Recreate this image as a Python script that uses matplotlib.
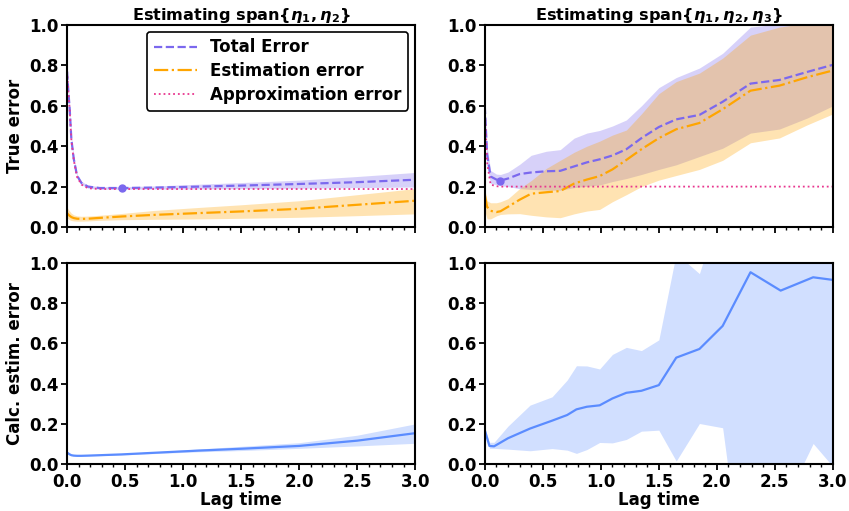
import numpy as np
import matplotlib
matplotlib.use('Agg')
import matplotlib.pyplot as plt
from matplotlib.ticker import MultipleLocator

plt.rcParams['font.family'] = 'DejaVu Sans'
plt.rcParams['font.weight'] = 'bold'
plt.rcParams['axes.labelweight'] = 'bold'
plt.rcParams['axes.titleweight'] = 'bold'

# left column: span{eta1, eta2}
lag_l = [0.0, 0.01, 0.023, 0.037, 0.058, 0.086, 0.124, 0.18, 0.28, 0.47, 0.75, 1.14, 1.5, 2.0, 2.5, 3.0]
tot_l = [0.77, 0.68, 0.58, 0.434, 0.336, 0.254, 0.218, 0.2, 0.193, 0.193, 0.195, 0.2, 0.205, 0.213, 0.222, 0.234]
tot_l_lo = [0.75, 0.66, 0.56, 0.42, 0.325, 0.245, 0.21, 0.192, 0.187, 0.187, 0.188, 0.189, 0.19, 0.192, 0.195, 0.198]
tot_l_hi = [0.79, 0.70, 0.60, 0.45, 0.347, 0.263, 0.226, 0.207, 0.2, 0.2, 0.203, 0.212, 0.22, 0.232, 0.25, 0.27]
est_l = [0.069, 0.062, 0.055, 0.049, 0.044, 0.041, 0.04, 0.041, 0.045, 0.052, 0.06, 0.069, 0.077, 0.09, 0.11, 0.13]
est_l_lo = [0.045, 0.04, 0.035, 0.032, 0.03, 0.029, 0.029, 0.03, 0.033, 0.036, 0.038, 0.04, 0.043, 0.048, 0.056, 0.065]
est_l_hi = [0.098, 0.088, 0.078, 0.068, 0.06, 0.055, 0.053, 0.054, 0.058, 0.067, 0.082, 0.097, 0.11, 0.13, 0.16, 0.19]
apx_l = [0.77, 0.68, 0.575, 0.43, 0.33, 0.248, 0.21, 0.192, 0.188, 0.188, 0.188, 0.188, 0.188, 0.188, 0.188, 0.188]
calc_l = [0.059, 0.055, 0.05, 0.046, 0.044, 0.043, 0.043, 0.044, 0.046, 0.05, 0.058, 0.069, 0.078, 0.092, 0.118, 0.155]
calc_l_lo = [0.055, 0.051, 0.047, 0.044, 0.042, 0.041, 0.041, 0.042, 0.044, 0.047, 0.054, 0.063, 0.069, 0.08, 0.092, 0.105]
calc_l_hi = [0.063, 0.059, 0.054, 0.049, 0.047, 0.046, 0.046, 0.047, 0.049, 0.054, 0.063, 0.077, 0.09, 0.108, 0.145, 0.201]
min_l = (0.47, 0.193)

# right column: span{eta1, eta2, eta3}
lag_r = [0.0, 0.02, 0.05, 0.1, 0.135, 0.2, 0.3, 0.4, 0.53, 0.65, 0.77, 0.88, 0.99, 1.1, 1.22, 1.35,
         1.5, 1.65, 1.85, 2.05, 2.29, 2.54, 2.78, 3.0]
tot_r = [0.60, 0.36, 0.25, 0.235, 0.23, 0.24, 0.262, 0.27, 0.276, 0.278, 0.30, 0.32, 0.335, 0.354, 0.385, 0.44,
         0.495, 0.533, 0.555, 0.62, 0.71, 0.728, 0.768, 0.803]
tot_r_lo = [0.58, 0.30, 0.215, 0.21, 0.205, 0.2, 0.19, 0.186, 0.183, 0.182, 0.195, 0.202, 0.208, 0.225, 0.24, 0.26,
            0.285, 0.308, 0.349, 0.39, 0.465, 0.485, 0.54, 0.6]
tot_r_hi = [0.62, 0.40, 0.28, 0.262, 0.26, 0.272, 0.31, 0.355, 0.375, 0.383, 0.44, 0.465, 0.478, 0.5, 0.53, 0.6,
            0.69, 0.74, 0.787, 0.86, 0.99, 1.005, 1.02, 1.04]
est_r = [0.16, 0.1, 0.08, 0.074, 0.078, 0.1, 0.135, 0.165, 0.172, 0.178, 0.215, 0.235, 0.252, 0.285, 0.332, 0.385,
         0.44, 0.484, 0.515, 0.583, 0.675, 0.7, 0.742, 0.775]
est_r_lo = [0.08, 0.04, 0.04, 0.055, 0.062, 0.065, 0.066, 0.058, 0.05, 0.046, 0.065, 0.079, 0.087, 0.125, 0.16, 0.2,
            0.232, 0.255, 0.285, 0.33, 0.417, 0.441, 0.506, 0.56]
est_r_hi = [0.19, 0.13, 0.12, 0.12, 0.125, 0.14, 0.19, 0.23, 0.29, 0.33, 0.37, 0.4, 0.425, 0.455, 0.48, 0.56,
            0.66, 0.72, 0.762, 0.836, 0.95, 0.99, 1.01, 1.02]
apx_r = [0.58, 0.32, 0.21, 0.202, 0.2, 0.2, 0.2, 0.2, 0.2, 0.2, 0.2, 0.2, 0.2, 0.2, 0.2, 0.2,
         0.2, 0.2, 0.2, 0.2, 0.2, 0.2, 0.2, 0.2]
min_r = (0.135, 0.23)

lag_c = [0.0, 0.04, 0.08, 0.2, 0.39, 0.58, 0.71, 0.79, 0.88, 0.99, 1.1, 1.22, 1.35, 1.5, 1.65, 1.85,
         2.05, 2.29, 2.55, 2.83, 3.0]
calc_r = [0.17, 0.092, 0.09, 0.13, 0.178, 0.217, 0.245, 0.273, 0.286, 0.293, 0.327, 0.355, 0.365, 0.393, 0.529, 0.572,
          0.686, 0.952, 0.861, 0.927, 0.914]
calc_r_lo = [0.17, 0.08, 0.08, 0.076, 0.068, 0.079, 0.071, 0.055, 0.074, 0.109, 0.107, 0.124, 0.165, 0.17, 0.017, 0.203,
             0.182, -0.85, -0.23, 0.104, -0.01]
calc_r_hi = [0.18, 0.11, 0.11, 0.19, 0.294, 0.335, 0.418, 0.489, 0.488, 0.473, 0.545, 0.58, 0.564, 0.617, 1.045, 0.945,
             1.31, 1.5, 1.4, 1.5, 1.6]

c_tot = '#7b68ee'
c_est = '#ffa500'
c_apx = '#e8368f'
c_calc = '#5b8cff'

fig, axes = plt.subplots(2, 2, figsize=(8.49, 5.11), dpi=100)
plt.subplots_adjust(left=0.079, right=0.981, top=0.951, bottom=0.091, wspace=0.2, hspace=0.176)

def top_panel(ax, lag, tot, tlo, thi, est, elo, ehi, apx, mn, title):
    ax.fill_between(lag, tlo, thi, color=c_tot, alpha=0.3, lw=0)
    ax.fill_between(lag, elo, ehi, color=c_est, alpha=0.3, lw=0)
    ax.plot(lag, tot, '--', color=c_tot, lw=1.6, label='Total Error')
    ax.plot(lag, est, '-.', color=c_est, lw=1.6, label='Estimation error')
    ax.plot(lag, apx, ':', color=c_apx, lw=1.3, label='Approximation error')
    ax.plot([mn[0]], [mn[1]], 'o', color=c_tot, ms=5)
    ax.set_title(title, fontsize=11.6, pad=3)

top_panel(axes[0, 0], lag_l, tot_l, tot_l_lo, tot_l_hi, est_l, est_l_lo, est_l_hi, apx_l, min_l,
          r'Estimating span$\{\eta_1, \eta_2\}$')
top_panel(axes[0, 1], lag_r, tot_r, tot_r_lo, tot_r_hi, est_r, est_r_lo, est_r_hi, apx_r, min_r,
          r'Estimating span$\{\eta_1, \eta_2, \eta_3\}$')

axes[1, 0].fill_between(lag_l, calc_l_lo, calc_l_hi, color=c_calc, alpha=0.28, lw=0)
axes[1, 0].plot(lag_l, calc_l, color=c_calc, lw=1.6)
axes[1, 1].fill_between(lag_c, calc_r_lo, calc_r_hi, color=c_calc, alpha=0.28, lw=0)
axes[1, 1].plot(lag_c, calc_r, color=c_calc, lw=1.6)

leg = axes[0, 0].legend(loc='upper right', fontsize=12, framealpha=1, edgecolor='black',
                        handlelength=2.6, borderaxespad=0.4, labelspacing=0.35)
leg.get_frame().set_linewidth(1.2)

for ax in axes.flat:
    ax.set_xlim(0, 3.0)
    ax.set_ylim(0, 1.0)
    ax.xaxis.set_major_locator(MultipleLocator(0.5))
    ax.xaxis.set_minor_locator(MultipleLocator(0.1))
    ax.yaxis.set_major_locator(MultipleLocator(0.2))
    ax.tick_params(which='major', labelsize=12, width=1.3, length=4, pad=2)
    ax.tick_params(which='minor', width=1, length=2)
    for s in ax.spines.values():
        s.set_linewidth(1.5)
for ax in axes[0]:
    ax.tick_params(labelbottom=False)
for ax in axes[1]:
    ax.set_xlabel('Lag time', fontsize=12, labelpad=0)
axes[0, 0].set_ylabel('True error', fontsize=12, labelpad=4)
axes[1, 0].set_ylabel('Calc. estim. error', fontsize=12, labelpad=4)

plt.savefig('out.png', dpi=100)
